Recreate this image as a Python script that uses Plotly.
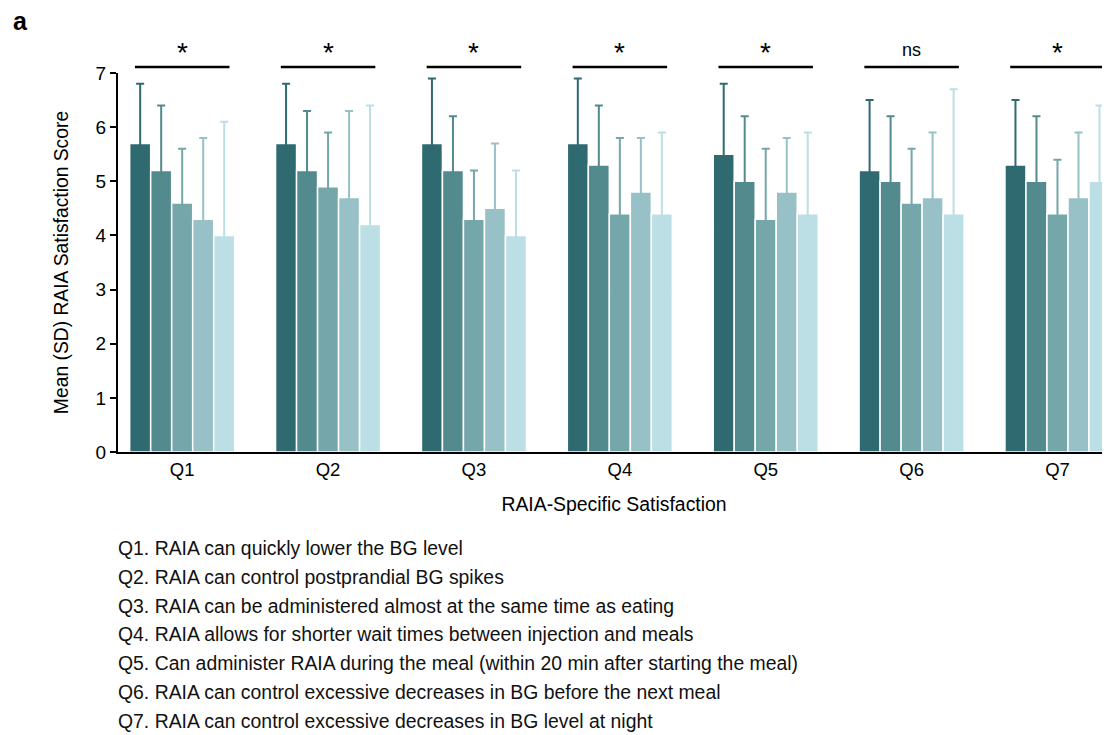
import plotly.graph_objects as go

categories = ["Q1", "Q2", "Q3", "Q4", "Q5", "Q6", "Q7"]
series_names = ["Group 1", "Group 2", "Group 3", "Group 4", "Group 5"]
means = [
    [5.7, 5.7, 5.7, 5.7, 5.5, 5.2, 5.3],
    [5.2, 5.2, 5.2, 5.3, 5.0, 5.0, 5.0],
    [4.6, 4.9, 4.3, 4.4, 4.3, 4.6, 4.4],
    [4.3, 4.7, 4.5, 4.8, 4.8, 4.7, 4.7],
    [4.0, 4.2, 4.0, 4.4, 4.4, 4.4, 5.0],
]
sds = [
    [1.1, 1.1, 1.2, 1.2, 1.3, 1.3, 1.2],
    [1.2, 1.1, 1.0, 1.1, 1.2, 1.2, 1.2],
    [1.0, 1.0, 0.9, 1.4, 1.3, 1.0, 1.0],
    [1.5, 1.6, 1.2, 1.0, 1.0, 1.2, 1.2],
    [2.1, 2.2, 1.2, 1.5, 1.5, 2.3, 1.4],
]
significance = ["*", "*", "*", "*", "*", "ns", "*"]
colors = ["#2e6a70", "#528a8d", "#74a6aa", "#97c1c6", "#bbdfe4"]
y_ticks = [0, 1, 2, 3, 4, 5, 6, 7]
footnotes = [
    "Q1. RAIA can quickly lower the BG level",
    "Q2. RAIA can control postprandial BG spikes",
    "Q3. RAIA can be administered almost at the same time as eating",
    "Q4. RAIA allows for shorter wait times between injection and meals",
    "Q5. Can administer RAIA during the meal (within 20 min after starting the meal)",
    "Q6. RAIA can control excessive decreases in BG before the next meal",
    "Q7. RAIA can control excessive decreases in BG level at night",
]

FONT = "Arial, Liberation Sans, sans-serif"
OFF = 8  # page body margin
W, H = 1110 - OFF, 735 - OFF
ML, MR, MT, MB = 118 - OFF, 0, 73 - OFF, 283
BARGAP = 0.28
plot_w = W - ML - MR
plot_h = H - MT - MB


def px_to_paper_y(ypix):
    # ypix in final screen pixels
    return 1 - (ypix - OFF - MT) / plot_h


def px_to_paper_x(xpix):
    return (xpix - OFF - ML) / plot_w


fig = go.Figure()
for i, name in enumerate(series_names):
    fig.add_trace(go.Bar(
        x=list(range(len(categories))),
        y=means[i],
        name=name,
        marker=dict(color=colors[i], line=dict(color="white", width=1.5)),
        error_y=dict(type="data", array=sds[i], symmetric=True,
                     color=colors[i], thickness=2, width=4),
        showlegend=False,
    ))

# significance bars
half = (1 - BARGAP) / 2 * 0.9
for k, s in enumerate(significance):
    fig.add_shape(type="line", xref="x", yref="paper",
                  x0=k - half, x1=k + half, y0=px_to_paper_y(67), y1=px_to_paper_y(67),
                  line=dict(color="black", width=2.5))
    fig.add_annotation(x=k, xref="x", y=px_to_paper_y(50 if s == "ns" else 53), yref="paper",
                       text=s, showarrow=False, yanchor="middle",
                       font=dict(size=28 if s == "*" else 18, color="black", family=FONT))

# panel label
fig.add_annotation(x=px_to_paper_x(11), y=px_to_paper_y(21), xref="paper", yref="paper",
                   text="<b>a</b>", showarrow=False, xanchor="left", yanchor="middle",
                   font=dict(size=25, color="black", family=FONT))

# footnotes
for j, t in enumerate(footnotes):
    ypix = 548 + j * 28.8
    fig.add_annotation(x=px_to_paper_x(116), xref="paper", y=px_to_paper_y(ypix), yref="paper",
                       text=t, showarrow=False, xanchor="left", yanchor="middle",
                       font=dict(size=19.4, color="#111111", family=FONT))

fig.update_layout(
    width=W, height=H,
    margin=dict(l=ML, r=MR, t=MT, b=MB),
    barmode="group", bargap=BARGAP, bargroupgap=0,
    plot_bgcolor="white", paper_bgcolor="white",
    font=dict(family=FONT, color="black"),
    xaxis=dict(
        tickmode="array", tickvals=list(range(len(categories))), ticktext=categories,
        range=[-0.44, 6.36], showline=True, linecolor="black", linewidth=2,
        ticks="", tickfont=dict(size=18.5), showgrid=False, zeroline=False,
        title=dict(text="RAIA-Specific Satisfaction", font=dict(size=19.4), standoff=18),
    ),
    yaxis=dict(
        range=[0, 7], tickvals=y_ticks, showline=True, linecolor="black", linewidth=2,
        ticks="outside", ticklen=6, tickwidth=1.5, tickcolor="black",
        tickfont=dict(size=19), showgrid=False, zeroline=False,
        title=dict(text="Mean (SD) RAIA Satisfaction Score", font=dict(size=19.3), standoff=22),
    ),
)

fig.write_html("out.html")
